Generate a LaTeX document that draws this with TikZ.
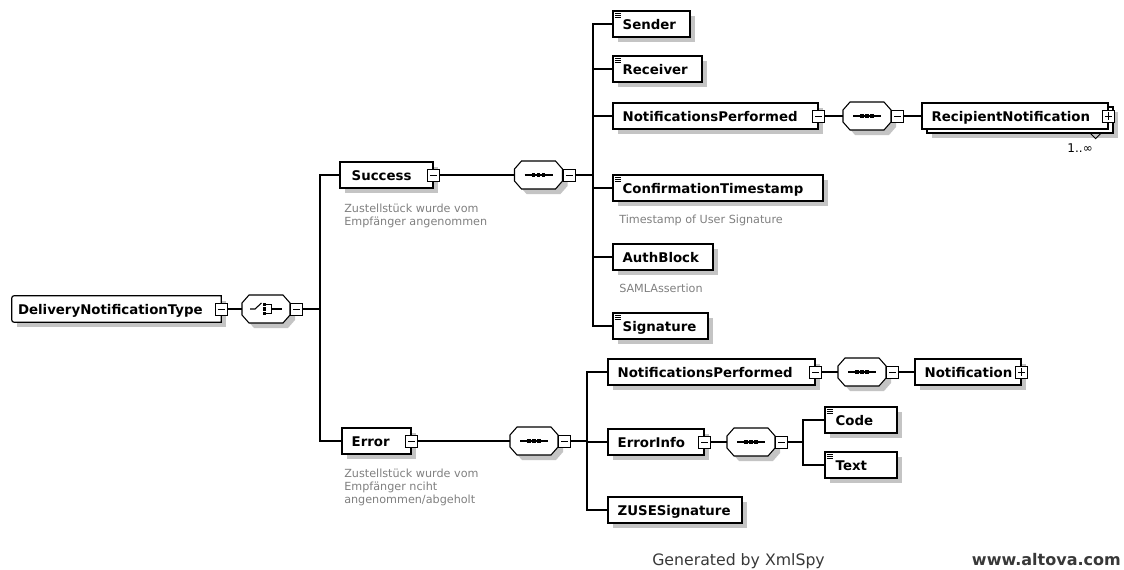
\documentclass[tikz,border=0pt]{standalone}
\usepackage{fontspec}
\setmainfont{DejaVu Sans}
\usetikzlibrary{shadows,calc}

\definecolor{shadowgray}{RGB}{196,196,196}
\definecolor{notegray}{RGB}{128,128,128}
\definecolor{foottext}{RGB}{56,56,56}

\tikzset{
  conn/.style={line width=0.8pt, black},
  boxshadow/.style={general shadow={fill=shadowgray, shadow xshift=3.75pt, shadow yshift=-3.75pt}},
  ebox/.style={rectangle, draw, line width=0.9pt, fill=white, inner sep=0pt,
    minimum height=19.5pt, boxshadow},
  plainbox/.style={rectangle, draw, line width=0.9pt, fill=white, inner sep=0pt,
    minimum height=19.5pt},
  rootbox/.style={rectangle, draw=none, fill=white, inner sep=0pt,
    minimum height=19.5pt, boxshadow},
  compbox/.style={rectangle, draw=none, inner sep=0pt,
    minimum width=36pt, minimum height=21pt},
  ename/.style={inner sep=0pt, anchor=base west,
    font=\bfseries\fontsize{10}{12}\selectfont},
  note/.style={inner sep=0pt, anchor=base west, text=notegray,
    font=\fontsize{8.4}{9.75}\selectfont},
  foot/.style={inner sep=0pt, text=foottext},
  mbox/.style={rectangle, draw, line width=0.75pt, fill=white, inner sep=0pt,
    minimum size=9pt,
    path picture={\draw[line width=0.75pt]
      ([xshift=1.8pt]path picture bounding box.west) --
      ([xshift=-1.8pt]path picture bounding box.east);}},
  pbox/.style={rectangle, draw, line width=0.75pt, fill=white, inner sep=0pt,
    minimum size=9pt,
    path picture={\draw[line width=0.75pt]
      ([xshift=1.8pt]path picture bounding box.west) --
      ([xshift=-1.8pt]path picture bounding box.east)
      ([yshift=1.8pt]path picture bounding box.south) --
      ([yshift=-1.8pt]path picture bounding box.north);}},
}

% element box: name, left x, centre y, width, text offset, label
\newcommand\elem[6]{%
  \node[ebox, minimum width={(#4)*0.75pt}] (#1) at ({#2+#4/2},#3) {};
  \node[ename] (#1-t) at ($(#1.west)+(#5,5.5)$) {#6};}
% small "simple content" mark in the upper left corner of a box
\newcommand\simplemark[1]{%
  \foreach \dy in {3,5,7}
    \draw[line width=0.6pt] ($(#1.north west)+(2.5,\dy)$) -- ++(6.5,0);}
% octagonal compositor with its shadow: name, centre x, centre y
\newcommand\octo{(-17,-14) -- (17,-14) -- (24,-6) -- (24,6) -- (17,14)
  -- (-17,14) -- (-24,6) -- (-24,-6) -- cycle}
\newcommand\comp[3]{%
  \node[compbox] (#1) at (#2,#3) {};
  \begin{scope}[shift={(#1.center)}]
    \fill[shadowgray] [shift={(5,5)}] \octo;
    \filldraw[fill=white, line width=0.8pt] \octo;
  \end{scope}
  \node[mbox, anchor=west] (#1-m) at (#1.east) {};}
% sequence compositor glyph
\newcommand\seqglyph[1]{%
  \begin{scope}[shift={(#1.center)}]
    \draw[line width=0.8pt] (-14,0) -- (14,0);
    \foreach \d in {-5,0,5} \fill (\d-1.8,-1.8) rectangle (\d+1.8,1.8);
  \end{scope}}
% choice compositor glyph
\newcommand\choiceglyph[1]{%
  \begin{scope}[shift={(#1.center)}]
    \draw[line width=0.8pt] (-16,0) -- (-11,0) -- (-4.5,-6);
    \foreach \d in {-4.5,0,4.5} \fill (-3.3,\d-1.6) rectangle (0.3,\d+1.6);
    \draw[line width=0.8pt] (0,-4.5) -- (5.5,-4.5) -- (5.5,4.5) -- (0,4.5);
    \draw[line width=0.8pt] (5.5,0) -- (16,0);
  \end{scope}}

\begin{document}
\begin{tikzpicture}[x=0.75pt,y=-0.75pt]
\fill[white] (0,0) rectangle (1124,569);
\useasboundingbox (0,0) rectangle (1124,569);

% ---------- root complex type ----------
\node[rootbox, minimum width={209*0.75pt}] (root) at (116.5,309) {};
\draw[line width=0.9pt] (root.north east) -- ([xshift=4pt]root.north west)
  .. controls (root.north west) .. ([yshift=-4pt]root.north west)
  -- ([yshift=4pt]root.south west)
  .. controls (root.south west) .. ([xshift=4pt]root.south west)
  -- (root.south east) -- cycle;
\node[ename] (root-t) at ($(root.west)+(6,5.5)$) {DeliveryNotificationType};
\node[mbox] (root-m) at (root.east) {};

\comp{choice}{266}{309}
\choiceglyph{choice}
\draw[conn] (root-m.east) -- (choice.west);
\coordinate (b1) at (320,309);
\draw[conn] (choice-m.east) -- (b1);

% ---------- Success branch ----------
\elem{success}{340}{175}{93}{12}{Success}
\node[mbox] (success-m) at (success.east) {};
\node[note] (success-n1) at (344,212) {Zustellstück wurde vom};
\node[note] (success-n2) at (344,225) {Empfänger angenommen};

\comp{seq1}{538.5}{175}
\seqglyph{seq1}
\draw[conn] (success-m.east) -- (seq1.west);
\coordinate (b2) at (593,175);
\draw[conn] (seq1-m.east) -- (b2);

\elem{sender}{613}{24}{77}{10}{Sender}
\simplemark{sender}
\elem{receiver}{613}{69}{89}{10}{Receiver}
\simplemark{receiver}
\elem{np1}{613}{116}{205}{10}{NotificationsPerformed}
\node[mbox] (np1-m) at (np1.east) {};

\comp{seq2}{867}{116}
\seqglyph{seq2}
\draw[conn] (np1-m.east) -- (seq2.west);

% repeated element: stacked boxes
\node[ebox, minimum width={186*0.75pt}] (rn-back) at (1020,120) {};
\node[plainbox, minimum width={186*0.75pt}] (rn) at (1015,116) {};
\node[ename] (rn-t) at ($(rn.west)+(10,5.5)$) {RecipientNotification};
\node[pbox] (rn-p) at (rn.east) {};
\draw[line width=0.75pt] ($(rn-back.south east)+(-23,0)$) -- ++(5,5) -- ++(5,-5);
\node[inner sep=0pt, anchor=base east, font=\fontsize{9}{10}\selectfont]
  (rn-occ) at (1093,152) {1..∞};
\draw[conn] (seq2-m.east) -- (rn.west);

\elem{ct}{613}{188}{210}{10}{ConfirmationTimestamp}
\simplemark{ct}
\node[note] (ct-n) at (619,223) {Timestamp of User Signature};
\elem{auth}{613}{257}{100}{10}{AuthBlock}
\node[note] (auth-n) at (619,292) {SAMLAssertion};
\elem{sig}{613}{326}{95}{10}{Signature}
\simplemark{sig}

\foreach \n in {sender,receiver,np1,ct,auth,sig}
  \draw[conn] (b2) |- (\n.west);

% ---------- Error branch ----------
\elem{error}{342}{441}{69}{10}{Error}
\node[mbox] (error-m) at (error.east) {};
\node[note] (error-n1) at (344,477) {Zustellstück wurde vom};
\node[note] (error-n2) at (344,490) {Empfänger nciht};
\node[note] (error-n3) at (344,503) {angenommen/abgeholt};

\draw[conn] (b1) |- (success.west);
\draw[conn] (b1) |- (error.west);

\comp{seq3}{534}{441}
\seqglyph{seq3}
\draw[conn] (error-m.east) -- (seq3.west);
\coordinate (b3) at (587,441);
\draw[conn] (seq3-m.east) -- (b3);

\elem{np2}{608}{372}{207}{10}{NotificationsPerformed}
\node[mbox] (np2-m) at (np2.east) {};
\comp{seq4}{862}{372}
\seqglyph{seq4}
\draw[conn] (np2-m.east) -- (seq4.west);
\elem{notif}{915}{372}{106}{10}{Notification}
\node[pbox] (notif-p) at (notif.east) {};
\draw[conn] (seq4-m.east) -- (notif.west);

\elem{einfo}{608}{442}{96}{10}{ErrorInfo}
\node[mbox] (einfo-m) at (einfo.east) {};
\comp{seq5}{751}{442}
\seqglyph{seq5}
\draw[conn] (einfo-m.east) -- (seq5.west);
\coordinate (b4) at (803,442);
\draw[conn] (seq5-m.east) -- (b4);

\elem{code}{825}{420}{72}{11}{Code}
\simplemark{code}
\elem{text}{825}{465}{72}{11}{Text}
\simplemark{text}
\draw[conn] (b4) |- (code.west);
\draw[conn] (b4) |- (text.west);

\elem{zuse}{608}{510}{134}{10}{ZUSESignature}

\foreach \n in {np2,einfo,zuse}
  \draw[conn] (b3) |- (\n.west);

% ---------- footer ----------
\node[foot, anchor=base west, font=\fontsize{11.8}{14}\selectfont]
  (gen) at (652,565) {Generated by XmlSpy};
\node[foot, anchor=base east, font=\bfseries\fontsize{12}{14}\selectfont]
  (web) at (1121,565) {www.altova.com};
\end{tikzpicture}
\end{document}
